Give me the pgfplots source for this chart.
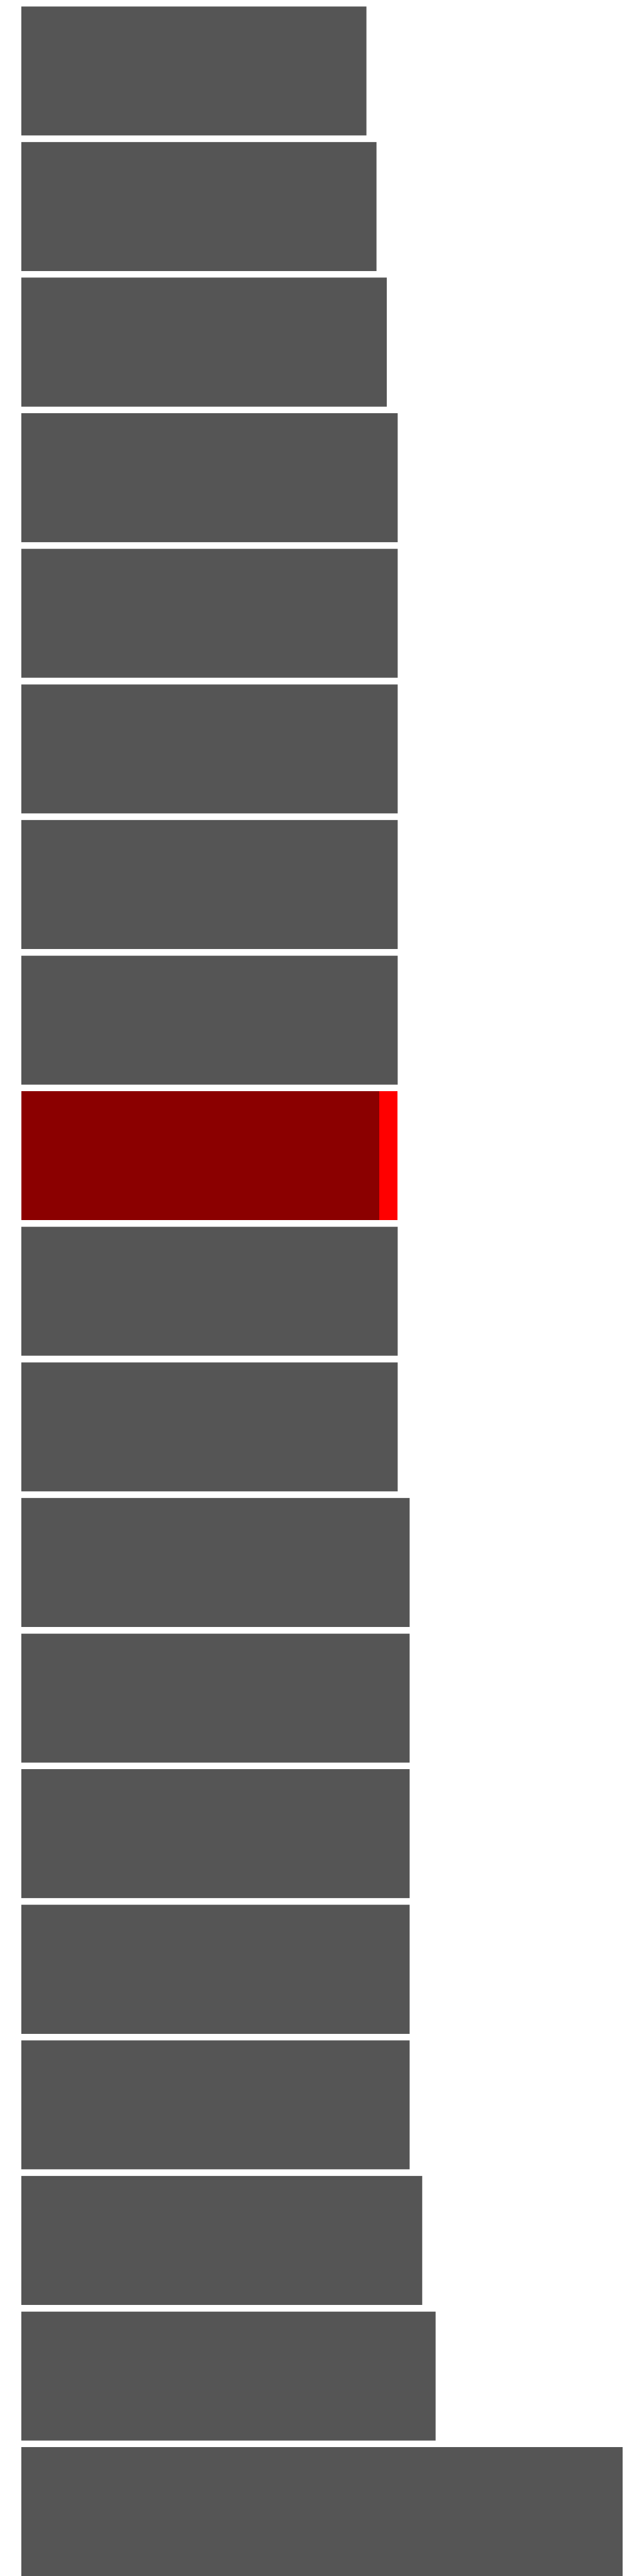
\documentclass[border=0pt]{standalone}
\usepackage{pgfplots}
\pgfplotsset{compat=1.18}
\definecolor{bargrey}{HTML}{555555}
\definecolor{bardark}{HTML}{8B0000}
\definecolor{barred}{HTML}{FF0000}
\begin{document}
\begin{tikzpicture}
\begin{axis}[
  scale only axis,
  width=204.8pt, height=819.2pt,
  xmin=-34, xmax=990,
  ymin=0.4768, ymax=19.4750,
  y dir=reverse,
  ticks=none,
  axis line style={draw=none},
  xbar, bar width=0.951, bar shift=0pt,
  clip=true,
]
\addplot[fill=bargrey, draw=none] coordinates {
(548.7,1) (564.7,2) (581.0,3) (598.5,4) (598.5,5) (598.5,6) (598.5,7) (598.5,8)
(598.5,10) (598.5,11) (617.3,12) (617.3,13) (617.3,14) (617.3,15) (617.3,16)
(637.3,17) (658.7,18) (956.0,19)
};
\addplot[fill=barred, draw=none] coordinates {(598.5,9)};
\addplot[fill=bardark, draw=none] coordinates {(568.7,9)};
\end{axis}
\end{tikzpicture}
\end{document}
